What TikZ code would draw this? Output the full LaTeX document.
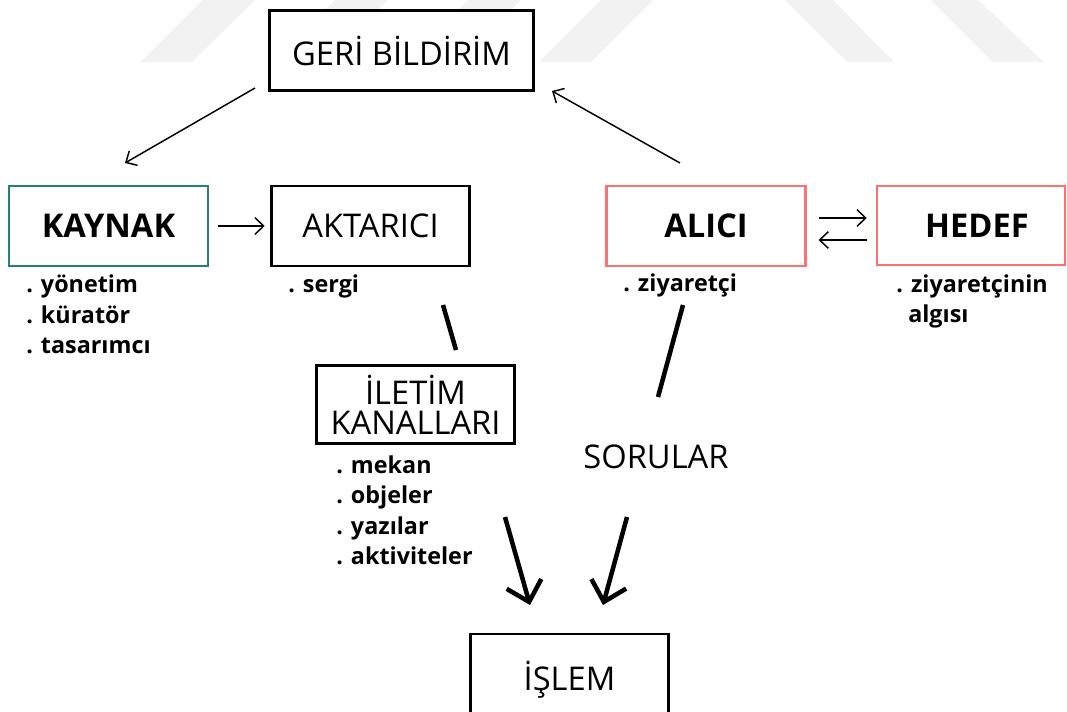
\documentclass[tikz,border=0pt]{standalone}
\usepackage{fontspec}
\setmainfont{Open Sans}
\usetikzlibrary{arrows.meta}

\definecolor{kaynakline}{RGB}{38,128,120}
\definecolor{alicline}{RGB}{255,112,112}
\definecolor{wmarkgray}{RGB}{242,242,242}

\newcommand{\boxfont}{\fontsize{24.5}{22.5}\selectfont}
\newcommand{\itemfont}{\fontsize{17.5}{22.5}\selectfont\bfseries}

\tikzset{
  wmark/.style={fill=wmarkgray},
  plainbox/.style={draw=black, line width=2.2pt, fill=white, inner sep=0pt,
    minimum width=149pt, minimum height=60pt, font=\boxfont, align=center},
  keybox/.style={draw=#1, line width=1.9pt, fill=white, inner sep=0pt,
    minimum width=149pt, minimum height=60pt, font=\boxfont\bfseries},
  item/.style={anchor=base west, inner sep=0pt, font=\itemfont},
  label/.style={anchor=base, inner sep=0pt, font=\boxfont},
  thinarrow/.style={line width=1.1pt, -{Straight Barb[length=6.5pt, width=12.5pt, line width=1.1pt]}},
  thickline/.style={line width=3.4pt},
  thickarrow/.style={line width=3.4pt, -{Straight Barb[length=14pt, width=27pt, line width=3.4pt]}},
}

\begin{document}
\begin{tikzpicture}[x=0.75pt, y=-0.75pt]
\useasboundingbox (0,0) rectangle (1067,711);

% faint background stripes
\foreach \k in {0,...,3} {
  \fill[wmark] ({140+133*\k},62) -- ({192+133*\k},62) -- ({255+133*\k},0) -- ({202+133*\k},0) -- cycle;
}
\fill[wmark] (847,62) -- (894,62) -- (833,0) -- (785,0) -- cycle;
\fill[wmark] (992,62) -- (1044,62) -- (978,0) -- (930,0) -- cycle;

% boxes
\node[plainbox, minimum width=198pt, minimum height=60.5pt] (geri) at (401.5,50.5) {GERİ BİLDİRİM};
\node[keybox=kaynakline] (kaynak) at (108.5,226) {KAYNAK};
\node[plainbox] (aktarici) at (370.5,226) {AKTARICI};
\node[keybox=alicline] (alici) at (706,226) {ALICI};
\node[keybox=alicline, minimum width=141pt, minimum height=59pt] (hedef) at (971,225.5) {\hspace{9pt}HEDEF};
\node[plainbox, minimum height=59pt] (iletim) at (415.5,404.5) {İLETİM\\KANALLARI};
\node[plainbox, minimum height=69pt] (islem) at (569.5,680) {İŞLEM};
\node[label] (sorular) at (656,468) {SORULAR};

% bullet lists
\node[item] (kay1) at (26,292) {. yönetim};
\node[item] (kay2) at (26,323) {. küratör};
\node[item] (kay3) at (26,353) {. tasarımcı};
\node[item] (akt1) at (288,292) {. sergi};
\node[item] (ali1) at (623,291) {. ziyaretçi};
\node[item] (hed1) at (896,292) {. ziyaretçinin};
\node[item] (hed2) at (908,322) {algısı};
\node[item] (ile1) at (336,473) {. mekan};
\node[item] (ile2) at (336,503) {. objeler};
\node[item] (ile3) at (336,534) {. yazılar};
\node[item] (ile4) at (336,564) {. aktiviteler};

% connector ends
\coordinate (fbout) at (255,88);
\coordinate (fbin)  at (125,163);
\coordinate (alout) at (680,163);
\coordinate (alin)  at (552,91);
\coordinate (akta)  at (443,305);
\coordinate (aktb)  at (456,350);
\coordinate (alia)  at (683,305);
\coordinate (alib)  at (658,397);
\coordinate (chana) at (505,517);
\coordinate (chanb) at (530,605);
\coordinate (sora)  at (627,517);
\coordinate (sorb)  at (603,605);

% connectors
\draw[thinarrow] (fbout) -- (fbin);
\draw[thinarrow] (alout) -- (alin);
\draw[thinarrow, shorten <=6.75pt, shorten >=3.75pt] (kaynak.east) -- (aktarici.west);
\draw[thinarrow, shorten <=9pt, shorten >=6.75pt] ([yshift=6pt]alici.east) -- ([yshift=6pt]alici.east -| hedef.west);
\draw[thinarrow, shorten <=6.75pt, shorten >=9pt] ([yshift=-10.5pt]alici.east -| hedef.west) -- ([yshift=-10.5pt]alici.east);
\draw[thickline] (akta) -- (aktb);
\draw[thickline] (alia) -- (alib);
\draw[thickarrow] (chana) -- (chanb);
\draw[thickarrow] (sora) -- (sorb);
\end{tikzpicture}
\end{document}
